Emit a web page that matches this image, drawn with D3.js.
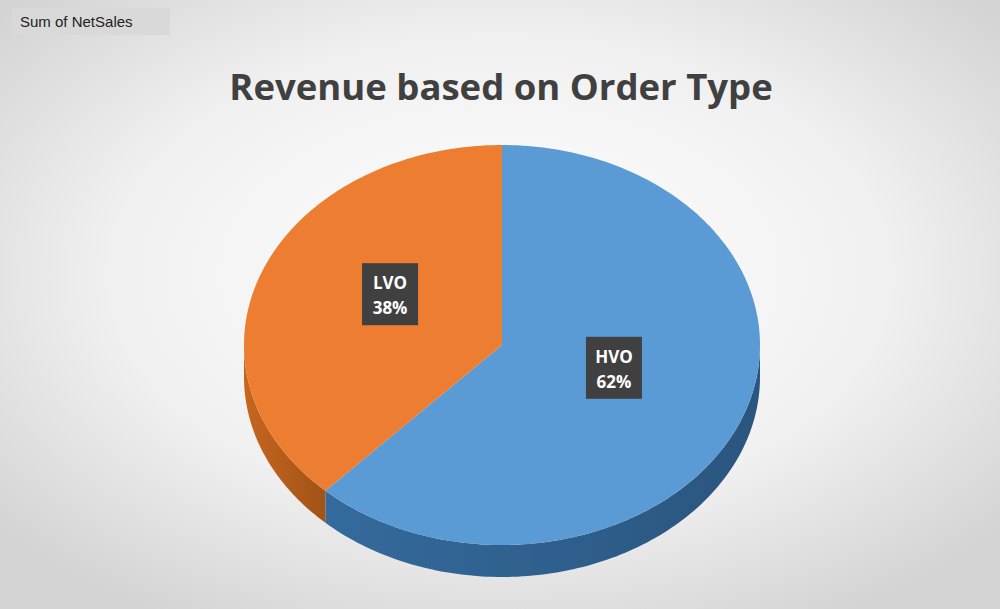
<!DOCTYPE html>
<html><head><meta charset="utf-8">
<script src="https://cdn.jsdelivr.net/npm/d3@7"></script>
<style>body{margin:0;overflow:hidden}svg{display:block}</style>
</head><body>
<script>
const categories = ["HVO", "LVO"];
const values = [62, 38];
const topColors = ["#5b9bd5", "#ed7d31"];
const sideColors = ["#2f5f8c", "#b35c1b"];
const title = "Revenue based on Order Type";
const fieldButton = "Sum of NetSales";

const W = 1000, H = 609;
const svg = d3.select("body").append("svg").attr("width", W).attr("height", H);
const defs = svg.append("defs");
const bg = defs.append("radialGradient").attr("id","bg").attr("cx","50%").attr("cy","45%").attr("r","65%");
bg.append("stop").attr("offset","0%").attr("stop-color","#ffffff");
bg.append("stop").attr("offset","60%").attr("stop-color","#f0f0f0");
bg.append("stop").attr("offset","100%").attr("stop-color","#d4d4d4");
svg.append("rect").attr("width",W).attr("height",H).attr("fill","url(#bg)");

svg.append("rect").attr("x",12).attr("y",8).attr("width",158).attr("height",27).attr("fill","#d9d9d9");
svg.append("text").attr("x",20).attr("y",27).text(fieldButton).attr("font-family","Liberation Sans, Arial").attr("font-size",15).attr("fill","#222");

svg.append("text").attr("x",501).attr("y",100).attr("text-anchor","middle").text(title)
  .attr("font-family","Open Sans, DejaVu Sans").attr("font-weight","bold").attr("font-size",36.5).attr("fill","#404040");

const cx = 502, cy = 345, rx = 258, ry = 200, depth = 32;
const pie = d3.pie().sort(null).value(d => d)(values);
const px = t => cx + rx * Math.sin(t);
const py = t => cy - ry * Math.cos(t);
const line = d3.line();

function arcPts(a, b, dy) {
  const n = Math.max(2, Math.ceil(Math.abs(b - a) / 0.02));
  return d3.range(n + 1).map(i => { const t = a + (b - a) * i / n; return [px(t), py(t) + dy]; });
}

pie.forEach((p, i) => {
  const a = Math.max(p.startAngle, Math.PI/2), b = Math.min(p.endAngle, 3*Math.PI/2);
  if (b <= a) return;
  const pts = arcPts(a, b, 0).concat(arcPts(b, a, depth));
  const g = defs.append("linearGradient").attr("id","side"+i).attr("x1","0").attr("x2","1");
  g.append("stop").attr("offset","0%").attr("stop-color", d3.color(sideColors[i]).brighter(0.3));
  g.append("stop").attr("offset","100%").attr("stop-color", d3.color(sideColors[i]).darker(0.3));
  svg.append("path").attr("d", line(pts) + "Z").attr("fill", "url(#side"+i+")");
});

pie.forEach((p, i) => {
  const pts = [[cx, cy]].concat(arcPts(p.startAngle, p.endAngle, 0));
  svg.append("path").attr("d", line(pts) + "Z").attr("fill", topColors[i]);
});

pie.forEach((p, i) => {
  const m = (p.startAngle + p.endAngle) / 2;
  const x = cx + rx * 0.5 * Math.sin(m) - 8 * Math.sign(Math.sin(m)), y = cy - ry * 0.5 * Math.cos(m) - 14;
  const g = svg.append("g").attr("transform", `translate(${x},${y})`);
  g.append("rect").attr("x",-28).attr("y",-31).attr("width",56).attr("height",62).attr("fill","#404040");
  const t = g.append("text").attr("text-anchor","middle").attr("fill","#fff")
    .attr("font-family","Open Sans, DejaVu Sans").attr("font-weight","bold").attr("font-size",17);
  t.append("tspan").attr("x",0).attr("y",-5).text(categories[i]);
  t.append("tspan").attr("x",0).attr("y",20).text(values[i] + "%");
});
</script>
</body></html>
